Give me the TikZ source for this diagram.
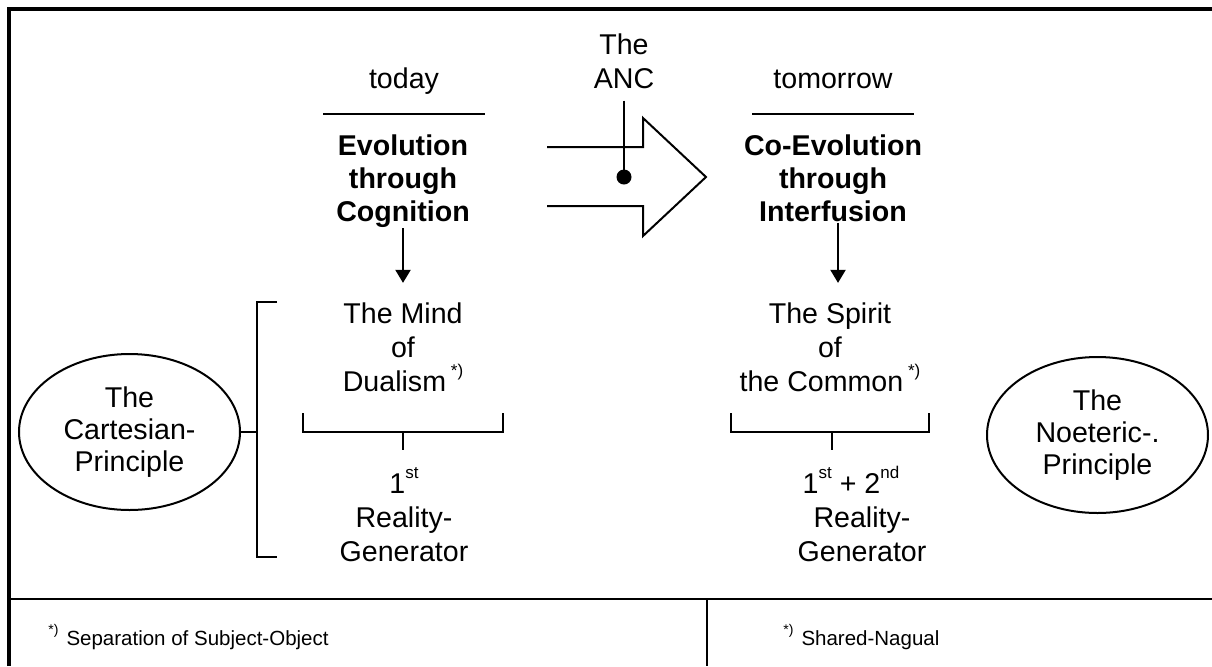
\documentclass[tikz,border=0pt]{standalone}
\usepackage{fontspec}
\setmainfont{Liberation Sans}
\usetikzlibrary{shapes.geometric,arrows.meta}
\newcommand\mysup[1]{\raisebox{0.5em}{\fontsize{8.5}{8.5}\selectfont #1}}
\newcommand\fnsup[1]{\raisebox{0.5em}{\fontsize{7}{7}\selectfont #1}}
\begin{document}
\begin{tikzpicture}[x=0.5pt,y=-0.5pt,
  txt/.style={font=\fontsize{14.3}{17}\selectfont, align=center, inner sep=0pt, anchor=base},
  boldtxt/.style={txt, font=\fontsize{14.3}{16.5}\selectfont\bfseries},
  ln/.style={line width=1pt},
  downarr/.style={ln, -{Triangle[width=7.5pt,length=6.5pt]}},
  principle/.style={ellipse, draw, ln, minimum width=110.5pt, minimum height=78pt, inner sep=0pt, align=center, font=\fontsize{14.3}{16}\selectfont},
  fnote/.style={anchor=base west, inner sep=0pt, font=\fontsize{10.25}{12}\selectfont}]
\useasboundingbox (0,0) rectangle (1212,666);
% frame
\draw[line width=2pt] (8.5,666) -- (8.5,8.5) -- (1212,8.5);
\draw[line width=1.25pt] (8.5,599) -- (1212,599);
\draw[ln] (707,599) -- (707,666);
% left column (base anchor = baseline of last line)
\node[txt] (today) at (404,88) {today};
\draw[ln] (323,114) -- (485,114);
\node[boldtxt] (evo) at (403,221) {Evolution\\through\\Cognition};
\node[txt] (mind) at (403,391) {The Mind\\of\\Dualism\,\mysup{*)}};
\draw[downarr, shorten <=0.5pt, shorten >=9.5pt] (evo.south) -- (mind.north);
\draw[ln] (303,413) -- (303,432) -- (503,432) -- (503,413);
\draw[ln] (403,432) -- (403,450);
\node[txt] (gen1) at (404,561) {1\mysup{st}\\Reality-\\Generator};
% left principle
\node[principle] (cart) at (129.5,432) {The\\Cartesian-\\Principle};
\coordinate (brk) at (257,432);
\draw[ln] (277,302) -- (257,302) -- (257,557) -- (277,557);
\draw[ln] (cart.east) -- (brk);
% centre arrow
\node[txt] (anc) at (624,88) {The\\ANC};
\node[circle, fill, minimum size=7.5pt, inner sep=0pt] (dot) at (624,177) {};
\draw[ln, line join=miter] (547,147) -- (643,147) -- (643,118) -- (706,177) -- (643,236) -- (643,206) -- (547,206);
\draw[ln, shorten <=6pt] (anc.south) -- (dot.center);
% right column
\node[txt] (tom) at (833,88) {tomorrow};
\draw[ln] (752,114) -- (914,114);
\node[boldtxt] (coevo) at (833,221) {Co-Evolution\\through\\Interfusion};
\node[txt] (spirit) at (830,391) {The Spirit\\of\\the Common\,\mysup{*)}};
\draw[downarr, shorten <=0.5pt, shorten >=9.5pt] ([xshift=2.5pt]coevo.south) -- ([xshift=4pt]spirit.north);
\draw[ln] (731,413) -- (731,432) -- (929,432) -- (929,413);
\draw[ln] (832,432) -- (832,450);
\node[txt] (gen2) at (862,561) {1\mysup{st} + 2\mysup{nd}\hspace*{11pt}\\Reality-\\Generator};
\node[principle] (noet) at (1097.5,435) {The\\Noeteric-.\\Principle};
% footnotes
\node[fnote] (fn1) at (48,645) {\fnsup{*)}\hspace{4pt}Separation of Subject-Object};
\node[fnote] (fn2) at (783,645) {\fnsup{*)}\hspace{4pt}Shared-Nagual};
\end{tikzpicture}
\end{document}
